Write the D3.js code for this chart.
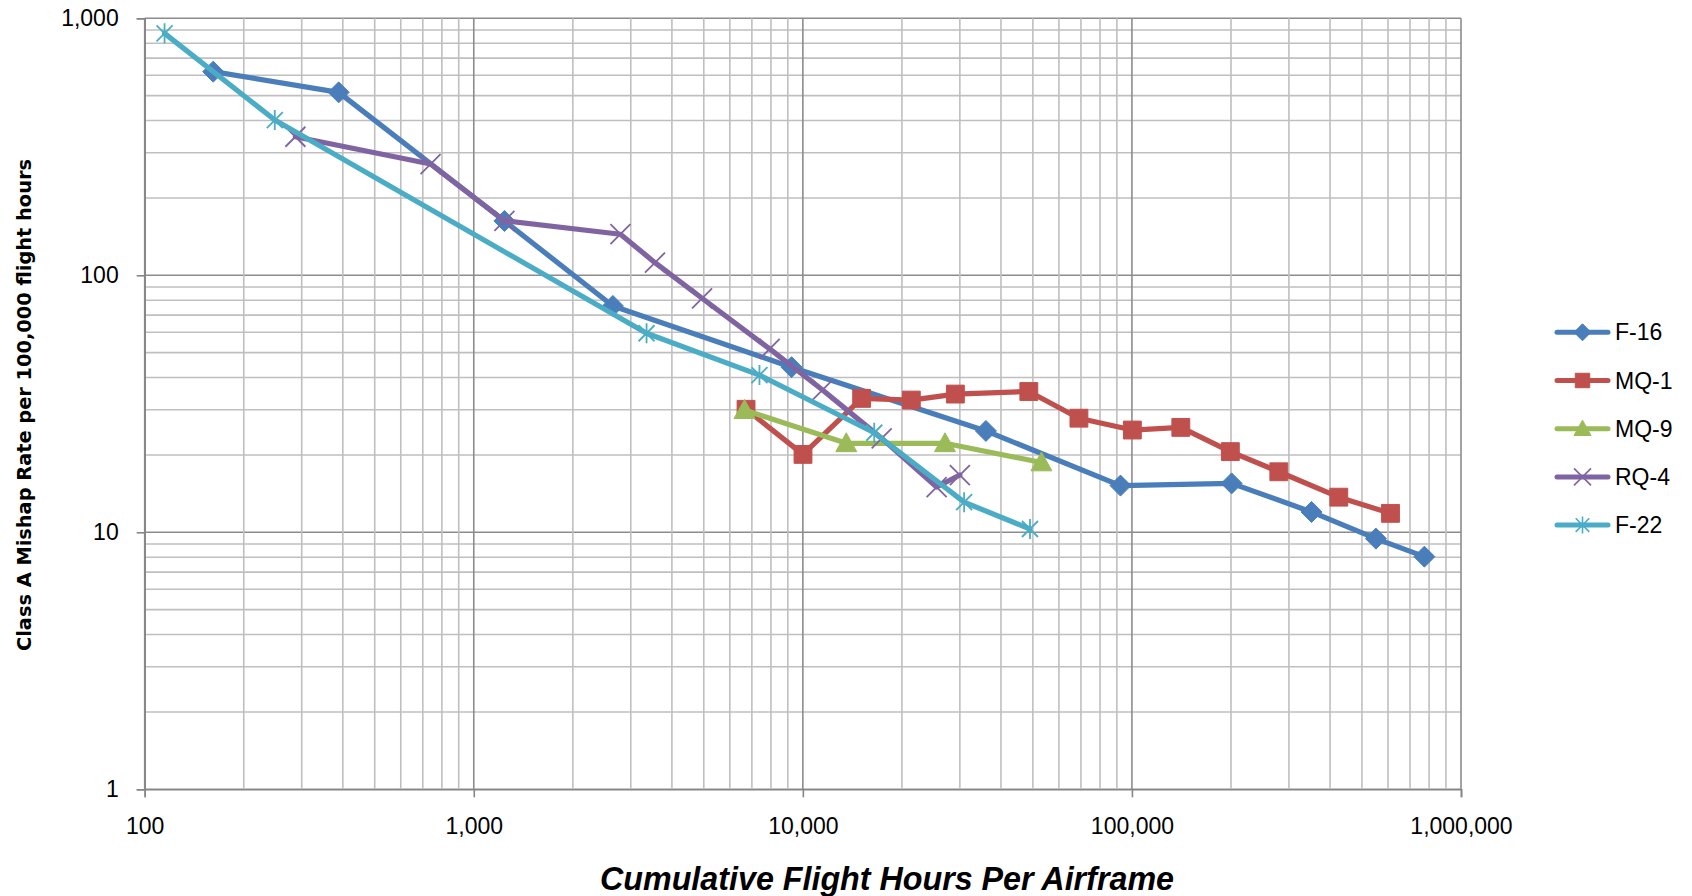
<html>
<head>
<meta charset="utf-8">
<script src="https://d3js.org/d3.v7.min.js"></script>
<style>
body { margin:0; background:#fff; }
</style>
</head>
<body>
<svg id="chart" width="1692" height="896"></svg>
<script>
// series data: [flight hours, mishap rate]
var f16  = [[161.5,620],[388.6,515],[1239,162.7],[2647,76],[9240,43.9],[36000,24.8],[92300,15.2],[200900,15.5],[351400,12.0],[551300,9.45],[774100,8.04]];
var mq1  = [[6720,30.1],[10010,20.1],[15090,33.2],[21360,32.7],[29070,34.5],[48610,35.3],[69020,27.8],[100300,25.0],[140800,25.6],[199100,20.6],[279500,17.2],[425300,13.7],[610600,11.85]];
var mq9  = [[6650,29.9],[13550,22.2],[27040,22.2],[53090,18.7]];
var rq4  = [[287,346],[739,271],[1239,163],[2790,144.5],[3553,112],[4940,81.4],[7930,51.7],[11480,35.8],[17360,23.2],[25500,15.0],[30000,16.7]];
var f22  = [[114.9,874],[248.5,402],[3350,59.5],[7382,40.9],[16480,24.4],[30910,13.1],[49000,10.3]];

var seriesNames = ["F-16", "MQ-1", "MQ-9", "RQ-4", "F-22"];
var seriesData = [f16, mq1, mq9, rq4, f22];
var seriesColors = ["#4a7ebb", "#c0504d", "#9bbb59", "#8064a2", "#4bacc6"];
var seriesMarkers = ["diamond", "square", "triangle", "x", "star"];

var xDomain = [100, 1000000];
var yDomain = [1, 1000];
var xTitle = "Cumulative Flight Hours Per Airframe";
var yTitle = "Class A Mishap Rate per 100,000 flight hours";

var width = 1692, height = 896;
var margin = {top: 18.3, right: 231, bottom: 106.7, left: 144.7};

var svg = d3.select("#chart");
var x = d3.scaleLog().domain(xDomain).range([margin.left, width - margin.right]);
var y = d3.scaleLog().domain(yDomain).range([height - margin.bottom, margin.top]);

function isMajor(v) { return Math.abs(Math.log10(v) - Math.round(Math.log10(v))) < 1e-9; }
var fmt = d3.format(",");

// gridlines
var grid = svg.append("g");
var xt = x.ticks(), yt = y.ticks();
grid.selectAll(".gy").data(yt).enter().append("line")
	.attr("x1", margin.left).attr("x2", width - margin.right)
	.attr("y1", d => y(d)).attr("y2", d => y(d))
	.attr("stroke", d => isMajor(d) ? "#8c8c8c" : "#bfbfbf")
	.attr("stroke-width", 1.6);
grid.selectAll(".gx").data(xt).enter().append("line")
	.attr("y1", margin.top).attr("y2", height - margin.bottom)
	.attr("x1", d => x(d)).attr("x2", d => x(d))
	.attr("stroke", d => isMajor(d) ? "#8c8c8c" : "#bfbfbf")
	.attr("stroke-width", 1.6);

// axes
var xAxis = d3.axisBottom(x).tickValues(xt.filter(isMajor)).tickFormat(fmt).tickSize(8).tickPadding(20);
var yAxis = d3.axisLeft(y).tickValues(yt.filter(isMajor)).tickFormat(fmt).tickSize(8).tickPadding(18);
var gx = svg.append("g").attr("transform", `translate(0,${height - margin.bottom})`).call(xAxis);
var gy = svg.append("g").attr("transform", `translate(${margin.left},0)`).call(yAxis);
[gx, gy].forEach(function(g) {
	g.select(".domain").attr("stroke", "#868686").attr("stroke-width", 1.6);
	g.selectAll(".tick line").attr("stroke", "#868686").attr("stroke-width", 1.6);
	g.selectAll(".tick text").attr("fill", "#000")
		.style("font-family", "'Liberation Sans', Arial, sans-serif").style("font-size", "23px");
});

// axis titles
svg.append("text")
	.attr("x", 887).attr("y", 890)
	.attr("text-anchor", "middle")
	.attr("textLength", 574).attr("lengthAdjust", "spacingAndGlyphs")
	.style("font-family", "'Liberation Sans', Arial, sans-serif")
	.style("font-weight", "bold").style("font-style", "italic").style("font-size", "33px")
	.text(xTitle);
svg.append("text")
	.attr("transform", "translate(31,405) rotate(-90)")
	.attr("text-anchor", "middle")
	.attr("textLength", 492).attr("lengthAdjust", "spacingAndGlyphs")
	.style("font-family", "'DejaVu Sans', Verdana, sans-serif")
	.style("font-weight", "bold").style("font-size", "19.5px")
	.text(yTitle);

// marker shapes
function markerPath(type, s) {
	var r = s / 2;
	if (type === "diamond") return `M0,${-r}L${r},0L0,${r}L${-r},0Z`;
	if (type === "square") return `M${-r*0.85},${-r*0.85}H${r*0.85}V${r*0.85}H${-r*0.85}Z`;
	if (type === "triangle") return `M0,${-r}L${r},${r*0.8}L${-r},${r*0.8}Z`;
	if (type === "x") return `M${-r},${-r}L${r},${r}M${-r},${r}L${r},${-r}`;
	return `M${-r*0.8},${-r*0.8}L${r*0.8},${r*0.8}M${-r*0.8},${r*0.8}L${r*0.8},${-r*0.8}M0,${-r}L0,${r}`;
}
function isFilled(type) { return type === "diamond" || type === "square" || type === "triangle"; }

var line = d3.line().x(d => x(d[0])).y(d => y(d[1]));

seriesData.forEach(function(data, i) {
	var g = svg.append("g");
	var col = seriesColors[i], mk = seriesMarkers[i];
	g.append("path").datum(data)
		.attr("d", line)
		.attr("fill", "none").attr("stroke", col)
		.attr("stroke-width", 5.2).attr("stroke-linejoin", "round").attr("stroke-linecap", "round");
	g.selectAll(".m").data(data).enter().append("path")
		.attr("transform", d => `translate(${x(d[0])},${y(d[1])})`)
		.attr("d", markerPath(mk, isFilled(mk) ? 21 : 20))
		.attr("fill", isFilled(mk) ? col : "none")
		.attr("stroke", col).attr("stroke-width", isFilled(mk) ? 1 : 1.8);
});

// legend
var legend = svg.append("g");
seriesNames.forEach(function(name, i) {
	var ly = 332.3 + i * 48.2;
	var col = seriesColors[i], mk = seriesMarkers[i];
	legend.append("line").attr("x1", 1557).attr("x2", 1608).attr("y1", ly).attr("y2", ly)
		.attr("stroke", col).attr("stroke-width", 5).attr("stroke-linecap", "round");
	legend.append("path").attr("transform", `translate(1582.5,${ly})`)
		.attr("d", markerPath(mk, 17))
		.attr("fill", isFilled(mk) ? col : "none")
		.attr("stroke", col).attr("stroke-width", isFilled(mk) ? 1 : 1.6);
	legend.append("text").attr("x", 1615).attr("y", ly + 8)
		.style("font-family", "'Liberation Sans', Arial, sans-serif").style("font-size", "23px")
		.text(name);
});
</script>
</body>
</html>
